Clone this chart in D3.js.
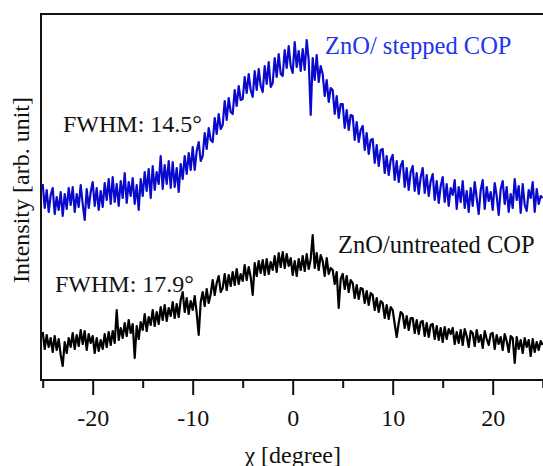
<!DOCTYPE html>
<html>
<head>
<meta charset="utf-8">
<script src="https://cdn.jsdelivr.net/npm/d3@7"></script>
<style>
  body { margin: 0; background: #fff; }
  text { font-family: "Liberation Serif", "DejaVu Serif", serif; }
</style>
</head>
<body>
<svg width="543" height="466"></svg>
<script>
// chi axis: 0.2 degree steps from -25 to 25
var chiStart = -25;
var chiStep = 0.2;

// ZnO / stepped COP (blue), arb. units
var stepped = [
  196, 172, 190, 168, 185,  192, 166, 183, 170, 188,  164, 186, 171, 192, 175,
  193, 168, 186, 173, 195,  176, 160, 191, 172, 188,  198, 174, 192, 170, 189,
  173, 197, 180, 201, 176,  203, 178, 196, 174, 199,  182, 207, 177, 198, 184,
  202, 176, 195, 170, 201,  184, 208, 189, 211, 182,  214, 190, 208, 196, 224,
  191, 215, 196, 219, 192,  218, 193, 212, 188, 216,  201, 224, 206, 227, 210,
  233, 210, 229, 238, 219,  224, 247, 231, 252, 240,  238, 262, 246, 266, 251,
  255, 279, 260, 282, 268,  266, 290, 274, 294, 280,  281, 303, 287, 306, 290,
  283, 309, 290, 311, 294,  288, 314, 296, 318, 293,  297, 322, 303, 326, 306,
  304, 330, 312, 334, 314,  307, 338, 313, 329, 309,  331, 310, 340, 320, 265,
  322, 300, 325, 298, 314,  306, 284, 300, 278, 292,  290, 266, 284, 262, 276,
  276, 252, 270, 250, 265,  264, 240, 258, 238, 250,  254, 230, 247, 226, 240,
  241, 217, 235, 214, 230,  231, 207, 224, 205, 220,  225, 200, 219, 198, 214,
  219, 193, 212, 190, 208,  214, 189, 207, 186, 203,  212, 187, 205, 184, 199,
  206, 180, 199, 177, 194,  203, 178, 196, 174, 192,  185, 200, 171, 193, 178,
  199, 172, 189, 168, 192,  174, 198, 182, 166, 190,  200, 171, 193, 179, 188,
  170, 197, 184, 165, 191,  199, 176, 193, 168, 186,  172, 201, 180, 194, 167,
  196, 175, 169, 190, 182,  198, 168, 191, 176, 184,  182
];

// ZnO / untreated COP (black), arb. units
var untreated = [
  48, 31, 45, 33, 42,  28, 44, 30, 41, 25,  14, 38, 27, 42, 33,
  47, 31, 45, 34, 50,  36, 49, 30, 46, 37,  44, 27, 42, 29, 40,
  31, 46, 33, 48, 35,  49, 37, 70, 40, 52,  42, 57, 44, 60, 47,
  56, 22, 54, 41, 58,  50, 66, 49, 63, 55,  70, 54, 68, 56, 73,
  60, 75, 59, 72, 64,  78, 62, 76, 63, 80,  88, 68, 82, 66, 79,
  70, 84, 67, 45, 78,  88, 74, 91, 77, 86,  100, 85, 97, 104, 88,
  92, 106, 90, 105, 94,  108, 95, 111, 96, 106,  99, 115, 100, 113, 103,
  85, 117, 104, 119, 107,  120, 105, 121, 106, 118,  110, 124, 108, 127, 113,
  128, 112, 126, 114, 122,  105, 119, 104, 121, 110,  124, 109, 126, 111, 121,
  145, 112, 127, 110, 125,  119, 104, 122, 106, 112,  110, 96, 108, 72, 101,
  106, 91, 104, 88, 100,  97, 82, 95, 81, 92,  91, 77, 89, 75, 87,
  85, 70, 82, 68, 79,  77, 62, 75, 61, 73,  70, 56, 43, 57, 68,
  66, 52, 64, 50, 62,  62, 47, 60, 46, 58,  59, 44, 57, 43, 55,
  56, 41, 54, 40, 52,  38, 53, 41, 51, 46,  52, 36, 48, 37, 50,
  35, 51, 44, 33, 49,  47, 34, 50, 38, 45,  32, 49, 41, 35, 46,
  47, 31, 45, 36, 43,  30, 46, 39, 28, 44,  42, 17, 43, 31, 40,
  27, 42, 33, 40, 24,  41, 28, 38, 30, 39,  35
];

var majorTicks = [-20, -10, 0, 10, 20];
var minorTicks = [-25, -15, -5, 5, 15, 25];

var svg = d3.select("svg");

// plot box (named so it doesn't clash with window.top)
var plotLeft = 41, plotTop = 14, plotBottom = 380;

var x = d3.scaleLinear().domain([-25.17, 25.03]).range([plotLeft, 543]);
var y = d3.scaleLinear().domain([0, 366]).range([plotBottom, plotTop]);

function toPoints(vals) {
  return vals.map((v, i) => [chiStart + i * chiStep, v]);
}

var line = d3.line()
  .x(d => x(d[0]))
  .y(d => y(d[1]));

// frame (right side runs off the picture)
svg.append("path")
  .attr("d", `M560,${plotTop} H${plotLeft} V${plotBottom} H560`)
  .attr("fill", "none")
  .attr("stroke", "#111")
  .attr("stroke-width", 2);

// curves
svg.append("path")
  .datum(toPoints(untreated))
  .attr("d", line)
  .attr("fill", "none")
  .attr("stroke", "#000")
  .attr("stroke-width", 2.2)
  .attr("stroke-linejoin", "round");

svg.append("path")
  .datum(toPoints(stepped))
  .attr("d", line)
  .attr("fill", "none")
  .attr("stroke", "#0a0acc")
  .attr("stroke-width", 2.2)
  .attr("stroke-linejoin", "round");

// bottom axis: major + minor ticks
var gMajor = svg.append("g")
  .attr("transform", `translate(0,${plotBottom})`)
  .call(d3.axisBottom(x).tickValues(majorTicks).tickSize(15).tickPadding(14)
    .tickFormat(d3.format("d")));
gMajor.select(".domain").remove();
gMajor.selectAll("line").attr("stroke", "#111").attr("stroke-width", 2);
gMajor.selectAll("text")
  .attr("font-size", 24)
  .attr("fill", "#111")
  .attr("font-family", "Liberation Serif")
  .text(d => String(d));

var gMinor = svg.append("g")
  .attr("transform", `translate(0,${plotBottom})`)
  .call(d3.axisBottom(x).tickValues(minorTicks).tickSize(8).tickFormat(""));
gMinor.select(".domain").remove();
gMinor.selectAll("line").attr("stroke", "#111").attr("stroke-width", 2);

// axis titles
svg.append("text")
  .attr("x", x(0))
  .attr("y", 463)
  .attr("text-anchor", "middle")
  .attr("font-size", 24)
  .attr("fill", "#111")
  .text("\u03c7 [degree]");

svg.append("text")
  .attr("transform", "translate(29,190) rotate(-90)")
  .attr("text-anchor", "middle")
  .attr("font-size", 24)
  .attr("fill", "#111")
  .text("Intensity [arb. unit]");

// labels
svg.append("text")
  .attr("x", 325).attr("y", 54)
  .attr("font-size", 24.5)
  .attr("fill", "#1e35ec")
  .text("ZnO/ stepped COP");

svg.append("text")
  .attr("x", 338).attr("y", 253)
  .attr("font-size", 24.5)
  .attr("fill", "#111")
  .text("ZnO/untreated COP");

svg.append("text")
  .attr("x", 63).attr("y", 132)
  .attr("font-size", 24)
  .attr("fill", "#111")
  .text("FWHM: 14.5\u00b0");

svg.append("text")
  .attr("x", 55).attr("y", 292)
  .attr("font-size", 24)
  .attr("fill", "#111")
  .text("FWHM: 17.9\u00b0");
</script>
</body>
</html>
